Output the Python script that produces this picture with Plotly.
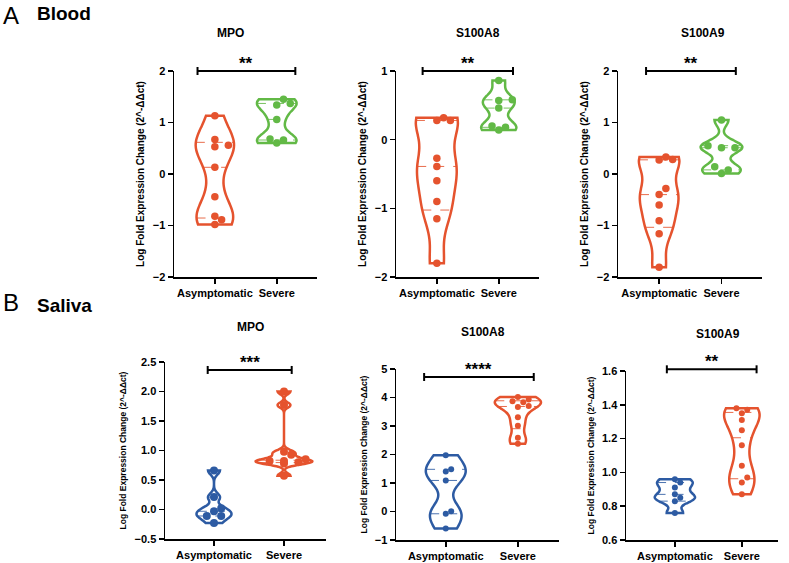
import numpy as np
import plotly.graph_objects as go

# ---------------- data ----------------
groups = ["Asymptomatic", "Severe"]
panel_titles = ["MPO", "S100A8", "S100A9", "MPO", "S100A8", "S100A9"]
significance = ["**", "**", "**", "***", "****", "**"]
y_title = "Log Fold Expression Change (2^-ΔΔct)"

blood_mpo_asym = [1.13, 0.67, 0.53, 0.56, 0.13, -0.44, -0.82, -0.89, -0.98]
blood_mpo_sev = [1.45, 1.34, 1.37, 1.06, 0.68, 0.66, 0.60]
blood_s100a8_asym = [0.28, 0.32, 0.28, -0.27, -0.39, -0.60, -0.90, -1.15, -1.80]
blood_s100a8_sev = [0.86, 0.57, 0.58, 0.46, 0.20, 0.14, 0.18]
blood_s100a9_asym = [0.28, 0.33, 0.27, -0.28, -0.40, -0.60, -0.91, -1.16, -1.81]
blood_s100a9_sev = [1.05, 0.51, 0.55, 0.51, 0.14, 0.01, 0.08]
saliva_mpo_asym = [0.66, 0.21, -0.03, 0.02, -0.11, -0.11, -0.23]
saliva_mpo_sev = [2.00, 1.77, 0.98, 0.93, 0.82, 0.85, 0.78, 0.80, 0.82, 0.57]
saliva_s100a8_asym = [1.97, 1.40, 1.48, 1.09, 0.01, -0.08, -0.60]
saliva_s100a8_sev = [4.02, 3.87, 3.83, 3.93, 3.67, 3.70, 3.31, 3.01, 2.59, 2.38]
saliva_s100a9_asym = [0.96, 0.94, 0.91, 0.87, 0.85, 0.83, 0.76]
saliva_s100a9_sev = [1.37, 1.38, 1.35, 1.31, 1.25, 1.16, 1.04, 0.97, 0.94, 0.87]

blood_mpo_ticks = [-2, -1, 0, 1, 2]
blood_s100a8_ticks = [-2, -1, 0, 1]
blood_s100a9_ticks = [-2, -1, 0, 1, 2]
saliva_mpo_ticks = [-0.5, 0.0, 0.5, 1.0, 1.5, 2.0, 2.5]
saliva_s100a8_ticks = [-1, 0, 1, 2, 3, 4, 5]
saliva_s100a9_ticks = [0.6, 0.8, 1.0, 1.2, 1.4, 1.6]

# ---------------- styles / layout ----------------
W, H = 789, 563
RED, GREEN, BLUE = "#E5532E", "#62B946", "#2D5BA3"
FONT = "Liberation Sans, Arial, sans-serif"

panels = [
    dict(data=(blood_mpo_asym, blood_mpo_sev), colors=(RED, GREEN), ticks=blood_mpo_ticks,
         yr=(-2, 2), fmt="d", xpx=(174, 317), ypx=(71, 277), xr=(-0.66, 1.65),
         widths=(0.62, 0.64), msize=7.5, bar=(-0.28, 1.3, 2.0), title=(230, 33), tsize=10),
    dict(data=(blood_s100a8_asym, blood_s100a8_sev), colors=(RED, GREEN), ticks=blood_s100a8_ticks,
         yr=(-2, 1), fmt="d", xpx=(396, 539), ypx=(71, 277), xr=(-0.66, 1.65),
         widths=(0.68, 0.57), msize=7.5, bar=(-0.23, 1.23, 1.0), title=(478, 33), tsize=10),
    dict(data=(blood_s100a9_asym, blood_s100a9_sev), colors=(RED, GREEN), ticks=blood_s100a9_ticks,
         yr=(-2, 2), fmt="d", xpx=(618, 762), ypx=(71, 277), xr=(-0.66, 1.65),
         widths=(0.65, 0.67), msize=7.5, bar=(-0.21, 1.23, 2.0), title=(703, 33), tsize=10),
    dict(data=(saliva_mpo_asym, saliva_mpo_sev), colors=(BLUE, RED), ticks=saliva_mpo_ticks,
         yr=(-0.5, 2.5), fmt=".1f", xpx=(165, 326), ypx=(362, 539), xr=(-0.7, 1.6),
         widths=(0.5, 0.81), msize=8, bar=(-0.09, 1.11, 2.365), title=(250, 327), tsize=8.5),
    dict(data=(saliva_s100a8_asym, saliva_s100a8_sev), colors=(BLUE, RED), ticks=saliva_s100a8_ticks,
         yr=(-1, 5), fmt="d", xpx=(396, 559), ypx=(369, 540), xr=(-0.69, 1.57),
         widths=(0.55, 0.64), msize=6, bar=(-0.3, 1.22, 4.72), title=(483, 332), tsize=8.5),
    dict(data=(saliva_s100a9_asym, saliva_s100a9_sev), colors=(BLUE, RED), ticks=saliva_s100a9_ticks,
         yr=(0.6, 1.6), fmt=".1f", xpx=(626, 778), ypx=(371, 540), xr=(-0.73, 1.54),
         widths=(0.6, 0.53), msize=6, bar=(-0.12, 1.22, 1.61), title=(718, 334), tsize=8.5),
]

BW_FACTOR = 0.55


def silverman(v):
    v = np.asarray(v, float)
    ssd = v.std(ddof=1)
    q1, q3 = np.percentile(v, [25, 75])
    a = min(ssd, (q3 - q1) / 1.349) if q3 > q1 else ssd
    return 1.059 * a * len(v) ** -0.2


def kde(v, ys, bw):
    v = np.asarray(v, float)[:, None]
    return np.exp(-0.5 * ((np.asarray(ys)[None, :] - v) / bw) ** 2).sum(0)


def swarm(vals, ppu_x, ppu_y, diam):
    vals = np.asarray(vals, float)
    order = np.argsort(vals)
    placed = []
    offs = np.zeros(len(vals))
    for i in order:
        yy = vals[i] * ppu_y
        chosen = 0.0
        for k in [0, 1, -1, 2, -2, 3, -3]:
            xx = k * diam * 0.9
            if all((xx - px) ** 2 + (yy - py) ** 2 >= (diam * 0.95) ** 2 for px, py in placed):
                chosen = xx
                break
        placed.append((chosen, yy))
        offs[i] = chosen / ppu_x
    return offs


def to_paper(px, py):
    return px / W, 1 - py / H


fig = go.Figure()
shapes = []
annotations = []

for idx, p in enumerate(panels):
    n = idx + 1
    xa = "x" if n == 1 else f"x{n}"
    ya = "y" if n == 1 else f"y{n}"
    ppu_x = (p["xpx"][1] - p["xpx"][0]) / (p["xr"][1] - p["xr"][0])
    ppu_y = (p["ypx"][1] - p["ypx"][0]) / (p["yr"][1] - p["yr"][0])

    for g, (vals, col, w) in enumerate(zip(p["data"], p["colors"], p["widths"])):
        vals = np.asarray(vals, float)
        bw = silverman(vals) * BW_FACTOR
        fig.add_trace(go.Violin(
            x=[g] * len(vals), y=vals, xaxis=xa, yaxis=ya,
            spanmode="hard", bandwidth=bw, width=w, scalemode="width",
            line=dict(color=col, width=2.5), fillcolor="rgba(255,255,255,0)",
            points=False, box_visible=False, meanline_visible=False,
            hoverinfo="skip", showlegend=False,
        ))
        grid = np.linspace(vals.min(), vals.max(), 600)
        mx = kde(vals, grid, bw).max()
        qs = np.percentile(vals, [25, 50, 75], method="weibull")
        for q in qs:
            half = w / 2 * kde(vals, [q], bw)[0] / mx
            fig.add_trace(go.Scatter(
                x=[g - half, g + half], y=[q, q], xaxis=xa, yaxis=ya, mode="lines",
                line=dict(color=col, width=1, dash="dash"), opacity=0.85,
                hoverinfo="skip", showlegend=False,
            ))
        offs = swarm(vals, ppu_x, ppu_y, p["msize"])
        fig.add_trace(go.Scatter(
            x=g + offs, y=vals, xaxis=xa, yaxis=ya, mode="markers",
            marker=dict(color=col, size=p["msize"], line=dict(width=0)),
            hoverinfo="skip", showlegend=False, cliponaxis=False,
        ))

    xd = (p["xpx"][0] / W, p["xpx"][1] / W)
    yd = (1 - p["ypx"][1] / H, 1 - p["ypx"][0] / H)
    axis_common = dict(showline=True, linecolor="black", linewidth=1.5, ticks="outside",
                       ticklen=5, tickwidth=1.5, tickcolor="black", showgrid=False,
                       zeroline=False, fixedrange=True, automargin=False,
                       tickfont=dict(family=FONT, size=11, color="black", weight="bold"))
    fig.update_layout(**{
        ("xaxis" if n == 1 else f"xaxis{n}"): dict(
            domain=xd, range=list(p["xr"]), tickvals=[0, 1], ticktext=groups,
            anchor=ya, **axis_common),
        ("yaxis" if n == 1 else f"yaxis{n}"): dict(
            domain=yd, range=list(p["yr"]), tickvals=p["ticks"],
            tickformat=p["fmt"], anchor=xa,
            title=dict(text=y_title, standoff=6,
                       font=dict(family=FONT, size=p["tsize"], color="black", weight="bold")),
            **axis_common),
    })

    # significance bar (paper coords computed from data coords)
    x0, x1, yb = p["bar"]
    px0 = p["xpx"][0] + (x0 - p["xr"][0]) * ppu_x
    px1 = p["xpx"][0] + (x1 - p["xr"][0]) * ppu_x
    pyb = p["ypx"][1] - (yb - p["yr"][0]) * ppu_y
    for (ax0, ay0, ax1, ay1) in [(px0, pyb, px1, pyb), (px0, pyb - 4, px0, pyb + 4),
                                 (px1, pyb - 4, px1, pyb + 4)]:
        a, b = to_paper(ax0, ay0)
        c, d = to_paper(ax1, ay1)
        shapes.append(dict(type="line", xref="paper", yref="paper", x0=a, y0=b, x1=c, y1=d,
                           line=dict(color="black", width=2)))
    ax_, ay_ = to_paper((px0 + px1) / 2, pyb + 4)
    annotations.append(dict(text=significance[idx], x=ax_, y=ay_, xref="paper", yref="paper",
                            xanchor="center", yanchor="bottom", showarrow=False,
                            font=dict(family=FONT, size=17, color="black", weight="bold")))
    tx, ty = to_paper(*p["title"])
    annotations.append(dict(text=panel_titles[idx], x=tx, y=ty, xref="paper", yref="paper",
                            xanchor="center", yanchor="middle", showarrow=False,
                            font=dict(family=FONT, size=12, color="black", weight="bold")))

for txt, px, py, size, wt in [("A", 2, 16, 24, "normal"), ("Blood", 36, 14, 19, "bold"),
                              ("B", 2, 302, 24, "normal"), ("Saliva", 36, 305, 19, "bold")]:
    a, b = to_paper(px, py)
    annotations.append(dict(text=txt, x=a, y=b, xref="paper", yref="paper", xanchor="left",
                            yanchor="middle", showarrow=False, borderpad=0,
                            font=dict(family=FONT, size=size, color="black", weight=wt)))

fig.update_layout(
    width=W, height=H, margin=dict(l=0, r=0, t=0, b=0, autoexpand=False),
    paper_bgcolor="white", plot_bgcolor="white",
    violinmode="overlay", violingap=0, violingroupgap=0,
    shapes=shapes, annotations=annotations, showlegend=False,
    font=dict(family=FONT, color="black"),
)

fig.write_html("out.html", config={"displayModeBar": False, "staticPlot": True},
               post_script="document.body.style.margin='0px';document.body.style.padding='0px';")
